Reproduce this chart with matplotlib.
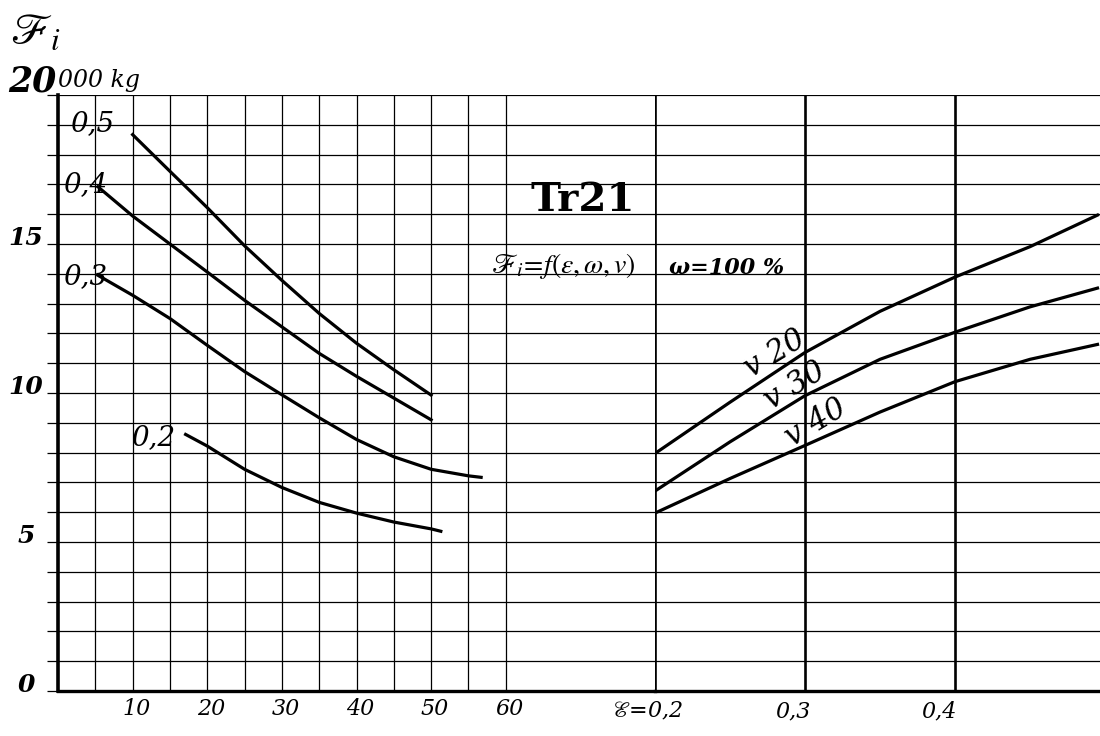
import matplotlib
matplotlib.use("Agg")
import matplotlib.pyplot as plt

# Fi in 1000 kg over speed v (km/h), one curve per epsilon
v_eps05 = [10, 15, 20, 25, 30, 35, 40, 45, 50]
fi_eps05 = [18.67, 17.44, 16.22, 14.94, 13.78, 12.67, 11.67, 10.78, 9.93]
v_eps04 = [5.35, 10, 15, 20, 25, 30, 35, 40, 45, 50]
fi_eps04 = [16.92, 15.94, 15.0, 14.06, 13.11, 12.22, 11.33, 10.56, 9.83, 9.1]
v_eps03 = [5.35, 10, 15, 20, 25, 30, 35, 40, 45, 50, 55, 56.7]
fi_eps03 = [13.95, 13.28, 12.5, 11.6, 10.72, 9.94, 9.17, 8.44, 7.86, 7.44,
            7.22, 7.17]
v_eps02 = [17.1, 20, 25, 30, 35, 40, 45, 50, 51.3]
fi_eps02 = [8.61, 8.22, 7.44, 6.83, 6.33, 5.97, 5.67, 5.44, 5.36]
eps_curve_labels = ["0,5", "0,4", "0,3", "0,2"]

# Fi in 1000 kg over epsilon, one curve per speed
eps_pts = [0.2, 0.25, 0.3, 0.35, 0.4, 0.45, 0.495]
fi_v20 = [7.97, 9.69, 11.36, 12.74, 13.89, 14.91, 15.97]
fi_v30 = [6.71, 8.36, 9.91, 11.13, 12.04, 12.89, 13.52]
fi_v40 = [5.97, 7.13, 8.24, 9.36, 10.38, 11.13, 11.63]
v_curve_labels = ["v 20", "v 30", "v 40"]

v_ticks = [10, 20, 30, 40, 50, 60]
v_tick_labels = ["10", "20", "30", "40", "50", "60"]
eps_ticks = [0.2, 0.3, 0.4]
eps_tick_labels = [r"$\mathscr{E}$=0,2", "0,3", "0,4"]
fi_ticks = [0, 5, 10, 15]
fi_tick_labels = ["0", "5", "10", "15"]

plt.rcParams["mathtext.fontset"] = "stix"
HAND = dict(family="DejaVu Serif", style="italic", color="black")


def style_grid(ax):
    ax.set_ylim(0, 20)
    ax.set_yticks(range(0, 21))
    ax.set_yticklabels([])
    for y in range(1, 21):
        ax.axhline(y, color="black", lw=0.9 if y < 20 else 1.6, zorder=1)
    ax.spines["right"].set_visible(False)
    ax.spines["top"].set_visible(False)
    ax.spines["bottom"].set_linewidth(2.4)
    ax.set_xticklabels([])
    ax.tick_params(axis="x", length=0)


def draw_left(fig):
    ax = fig.add_axes([58 / 1100, 45 / 736, 597 / 1100, 596 / 736])
    ax.set_xlim(0, 80)
    style_grid(ax)
    ax.spines["left"].set_linewidth(2.6)
    ax.tick_params(axis="y", direction="out", length=8, width=0.9)

    for v in range(5, 65, 5):
        ax.axvline(v, color="black", lw=0.9, zorder=1)

    curves = [(v_eps05, fi_eps05), (v_eps04, fi_eps04),
              (v_eps03, fi_eps03), (v_eps02, fi_eps02)]
    for v, fi in curves:
        ax.plot(v, fi, color="black", lw=2.3, zorder=3,
                solid_joinstyle="round")

    # curve labels
    pos = [(4.6, 19.05), (3.6, 17.0), (3.6, 13.9), (12.8, 8.5)]
    for (x, y), lab in zip(pos, eps_curve_labels):
        ax.text(x, y, lab, fontsize=20, ha="center", va="center",
                zorder=4, **HAND)

    for v, lab in zip(v_ticks, v_tick_labels):
        ax.text(v + 0.5, -0.6, lab, fontsize=16, ha="center", va="center",
                **HAND)
    for f, lab in zip(fi_ticks, fi_tick_labels):
        ax.text(-4.3, f + 0.2, lab, fontsize=18, ha="center", va="center",
                weight="bold", **HAND)
    return ax


def draw_right(fig):
    ax = fig.add_axes([655 / 1100, 45 / 736, 445 / 1100, 596 / 736])
    ax.set_xlim(0.2, 0.2 + 445 / 1500)
    style_grid(ax)
    ax.spines["left"].set_visible(False)
    ax.tick_params(axis="y", length=0)

    for e in eps_ticks:
        ax.axvline(e, color="black", lw=1.9, zorder=2)

    for fi in [fi_v20, fi_v30, fi_v40]:
        ax.plot(eps_pts, fi, color="black", lw=2.3, zorder=3,
                solid_joinstyle="round")

    pos = [(0.28, 11.3), (0.293, 10.25), (0.307, 9.0)]
    for (x, y), lab in zip(pos, v_curve_labels):
        ax.text(x, y, lab, fontsize=22, ha="center", va="center",
                rotation=31, zorder=4, **HAND)

    offs = [-0.005, -0.008, -0.011]
    for e, lab, d in zip(eps_ticks, eps_tick_labels, offs):
        ax.text(e + d, -0.7, lab, fontsize=16, ha="center", va="center",
                **HAND)
    return ax


def main():
    fig = plt.figure(figsize=(11, 7.36), dpi=100)
    draw_left(fig)
    draw_right(fig)

    # headings drawn in figure pixel coordinates
    fig.text(10 / 1100, 1 - 32 / 736, r"$\mathscr{F}_i$", fontsize=32,
             ha="left", va="center")
    fig.text(8 / 1100, 1 - 82 / 736, "20", fontsize=25, ha="left",
             va="center", weight="bold", **HAND)
    fig.text(58 / 1100, 1 - 80 / 736, "000 kg", fontsize=17, ha="left",
             va="center", **HAND)
    fig.text(583 / 1100, 1 - 200 / 736, "Tr21", fontsize=29, ha="center",
             va="center", family="DejaVu Serif", weight="bold")
    fig.text(563 / 1100, 1 - 266 / 736,
             r"$\mathscr{F}_i\!=\!f(\varepsilon,\omega,v)$", fontsize=20,
             ha="center", va="center")
    fig.text(727 / 1100, 1 - 268 / 736, "ω=100 %", fontsize=16,
             ha="center", va="center", weight="bold", **HAND)

    fig.savefig("out.png", dpi=100, facecolor="white")


if __name__ == "__main__":
    main()
